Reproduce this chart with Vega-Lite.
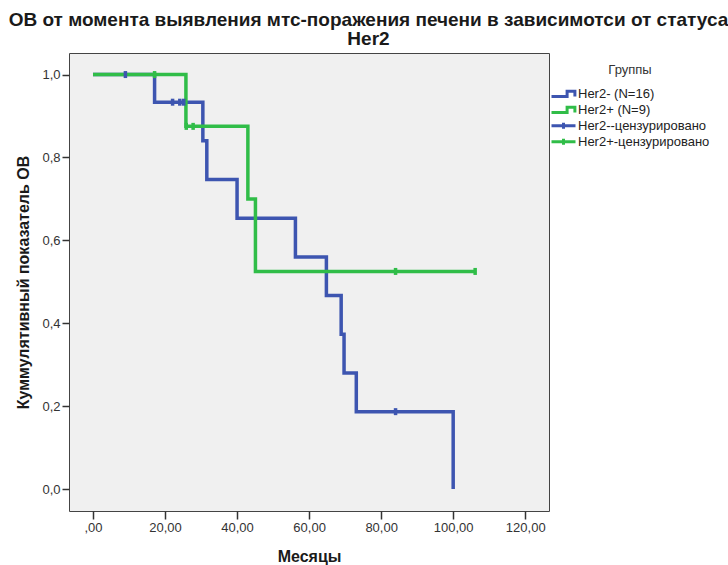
{
  "$schema": "https://vega.github.io/schema/vega-lite/v6.json",
  "width": 480,
  "height": 458,
  "padding": {"left": 8, "top": 11, "right": 5, "bottom": 5},
  "background": "white",
  "title": {
    "text": ["ОВ от момента выявления мтс-поражения печени в зависимотси от статуса", "Her2"],
    "font": "Liberation Sans",
    "fontSize": 19,
    "fontWeight": "bold",
    "color": "#1a1a1a",
    "lineHeight": 19,
    "anchor": "middle",
    "frame": "bounds",
    "offset": 4
  },
  "config": {
    "view": {"fill": "#f0f0f0", "stroke": "#444444", "strokeWidth": 1},
    "font": "Liberation Sans"
  },
  "data": {
    "values": [
      {"kind": "line", "group": "Her2- (N=16)", "time": 0, "surv": 1},
      {"kind": "line", "group": "Her2- (N=16)", "time": 17.1, "surv": 0.9333},
      {"kind": "line", "group": "Her2- (N=16)", "time": 30.5, "surv": 0.84},
      {"kind": "line", "group": "Her2- (N=16)", "time": 31.6, "surv": 0.7467},
      {"kind": "line", "group": "Her2- (N=16)", "time": 40.0, "surv": 0.6533},
      {"kind": "line", "group": "Her2- (N=16)", "time": 56.2, "surv": 0.56},
      {"kind": "line", "group": "Her2- (N=16)", "time": 64.8, "surv": 0.4667},
      {"kind": "line", "group": "Her2- (N=16)", "time": 68.9, "surv": 0.3733},
      {"kind": "line", "group": "Her2- (N=16)", "time": 69.7, "surv": 0.28},
      {"kind": "line", "group": "Her2- (N=16)", "time": 73.1, "surv": 0.1867},
      {"kind": "line", "group": "Her2- (N=16)", "time": 100, "surv": 0},
      {"kind": "line", "group": "Her2+ (N=9)", "time": 0, "surv": 1},
      {"kind": "line", "group": "Her2+ (N=9)", "time": 25.8, "surv": 0.875},
      {"kind": "line", "group": "Her2+ (N=9)", "time": 43.0, "surv": 0.7},
      {"kind": "line", "group": "Her2+ (N=9)", "time": 45.1, "surv": 0.525},
      {"kind": "line", "group": "Her2+ (N=9)", "time": 106.1, "surv": 0.525},
      {"kind": "censor", "group": "Her2--цензурировано", "time": 9.0, "surv": 1},
      {"kind": "censor", "group": "Her2--цензурировано", "time": 22.1, "surv": 0.9333},
      {"kind": "censor", "group": "Her2--цензурировано", "time": 24.1, "surv": 0.9333},
      {"kind": "censor", "group": "Her2--цензурировано", "time": 25.2, "surv": 0.9333},
      {"kind": "censor", "group": "Her2--цензурировано", "time": 84.0, "surv": 0.1867},
      {"kind": "censor", "group": "Her2+-цензурировано", "time": 17.1, "surv": 1},
      {"kind": "censor", "group": "Her2+-цензурировано", "time": 25.9, "surv": 0.875},
      {"kind": "censor", "group": "Her2+-цензурировано", "time": 27.8, "surv": 0.875},
      {"kind": "censor", "group": "Her2+-цензурировано", "time": 84.0, "surv": 0.525},
      {"kind": "censor", "group": "Her2+-цензурировано", "time": 106.1, "surv": 0.525}
    ]
  },
  "encoding": {
    "x": {
      "field": "time",
      "type": "quantitative",
      "scale": {"domain": [-6.66, 126.6], "nice": false, "zero": false},
      "axis": {
        "title": "Месяцы",
        "values": [0, 20, 40, 60, 80, 100, 120],
        "labelExpr": "datum.value == 0 ? ',00' : replace(format(datum.value, '.2f'), '.', ',')",
        "domain": false,
        "grid": false,
        "tickSize": 8,
        "tickColor": "#333333",
        "tickWidth": 1.5,
        "labelPadding": 2,
        "labelFontSize": 13,
        "labelColor": "#333333",
        "labelFont": "Liberation Sans",
        "titleFont": "Liberation Sans",
        "titleFontSize": 16,
        "titleFontWeight": "bold",
        "titleColor": "#1a1a1a",
        "titlePadding": 14
      }
    },
    "y": {
      "field": "surv",
      "type": "quantitative",
      "scale": {"domain": [-0.053, 1.052], "nice": false, "zero": false},
      "axis": {
        "title": "Куммулятивный показатель ОВ",
        "values": [0, 0.2, 0.4, 0.6, 0.8, 1.0],
        "labelExpr": "replace(format(datum.value, '.1f'), '.', ',')",
        "domain": false,
        "grid": false,
        "tickSize": 7,
        "tickColor": "#333333",
        "tickWidth": 1.5,
        "labelPadding": 2,
        "labelFontSize": 13,
        "labelColor": "#333333",
        "labelFont": "Liberation Sans",
        "titleFont": "Liberation Sans",
        "titleFontSize": 16,
        "titleFontWeight": "bold",
        "titleColor": "#1a1a1a",
        "titlePadding": 10
      }
    },
    "color": {
      "field": "group",
      "type": "nominal",
      "scale": {
        "domain": ["Her2- (N=16)", "Her2+ (N=9)", "Her2--цензурировано", "Her2+-цензурировано"],
        "range": ["#3d55b0", "#30bd48", "#3d55b0", "#30bd48"]
      },
      "legend": {
        "title": "Группы",
        "titleFont": "Liberation Sans",
        "titleFontSize": 13,
        "titleFontWeight": "normal",
        "titleColor": "#333333",
        "titleAnchor": "middle",
        "titlePadding": 9,
        "labelFont": "Liberation Sans",
        "labelFontSize": 13,
        "labelColor": "#222222",
        "labelOffset": 1,
        "clipHeight": 15.7,
        "rowPadding": 0,
        "offset": -10,
        "padding": 11,
        "encode": {
          "symbols": {
            "update": {
              "shape": {"signal": "indexof(datum.value, 'цензур') >= 0 ? 'M-1,0H1M0,-0.25V0.25' : 'M-1,0.22H0.3V-0.22H0.95V0.22'"},
              "size": {"value": 576},
              "strokeWidth": {"value": 3},
              "fill": {"value": "transparent"},
              "stroke": {"scale": "color", "field": "value"},
              "opacity": {"value": 1}
            }
          }
        }
      }
    }
  },
  "layer": [
    {
      "transform": [{"filter": "datum.kind == 'line'"}],
      "mark": {"type": "line", "interpolate": "step-after", "strokeWidth": 3.5, "strokeJoin": "miter"}
    },
    {
      "transform": [{"filter": "datum.kind == 'censor'"}],
      "mark": {"type": "point", "shape": "M0,-1V1", "size": 49, "strokeWidth": 3.5, "filled": false, "opacity": 1}
    }
  ]
}
